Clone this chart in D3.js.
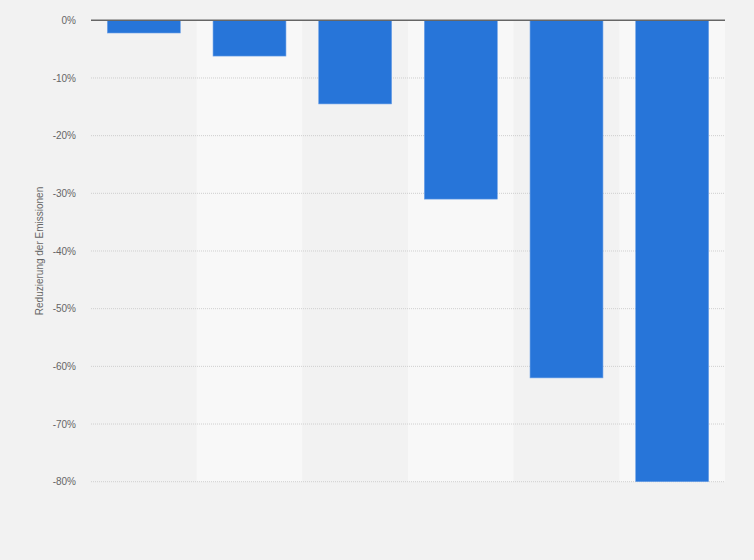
<!DOCTYPE html>
<html>
<head>
<meta charset="utf-8">
<script src="https://cdn.jsdelivr.net/npm/d3@7"></script>
<style>
html,body{margin:0;padding:0;background:#f2f2f2;}
svg{display:block;}
</style>
</head>
<body>
<svg id="chart" width="754" height="560"></svg>
<script>
const categories = ["A", "B", "C", "D", "E", "F"];
const values = [-2.2, -6.2, -14.5, -31, -62, -80];
const yTicks = [0, -10, -20, -30, -40, -50, -60, -70, -80];
const yTitle = "Reduzierung der Emissionen";

const FONT = "'Liberation Sans', Arial, sans-serif";
const svg = d3.select("#chart");
const W = 754, H = 560;
const m = {left: 91, right: 29, top: 20.3, bottom: 78.3};
const x = d3.scaleBand().domain(categories).range([m.left, W - m.right]).paddingInner(0.31).paddingOuter(0.155);
const xBg = d3.scaleBand().domain(categories).range([m.left, W - m.right]).padding(0);
const y = d3.scaleLinear().domain([-80, 0]).range([H - m.bottom, m.top]);

svg.append("rect").attr("width", W).attr("height", H).attr("fill", "#f2f2f2");

// alternating band backgrounds
svg.append("g").selectAll("rect").data(categories).join("rect")
  .attr("x", d => xBg(d)).attr("width", xBg.bandwidth())
  .attr("y", y(0)).attr("height", y(-80) - y(0))
  .attr("fill", (d, i) => i % 2 === 1 ? "#f8f8f8" : "#f2f2f2");

// y axis labels
const yAxis = d3.axisLeft(y).tickValues(yTicks).tickFormat(d => d + "%").tickSize(0).tickPadding(15);
const gAxis = svg.append("g").attr("transform", `translate(${m.left},0)`).call(yAxis);
gAxis.select(".domain").remove();
gAxis.selectAll("text").attr("fill", "#666").style("font-family", FONT).style("font-size", "10px");

// gridlines
svg.append("g").selectAll("line").data(yTicks.filter(t => t !== 0)).join("line")
  .attr("x1", m.left).attr("x2", W - m.right)
  .attr("y1", d => y(d)).attr("y2", d => y(d))
  .attr("stroke", "#cfcfcf").attr("stroke-width", 1).attr("stroke-dasharray", "1,1");

// bars
svg.append("g").selectAll("rect").data(values).join("rect")
  .attr("x", (d, i) => x(categories[i]))
  .attr("width", x.bandwidth())
  .attr("y", y(0))
  .attr("height", d => y(d) - y(0))
  .attr("fill", "#2775d9")
  .attr("stroke", "#6a9fe6").attr("stroke-width", 0.6);

// zero line
svg.append("line").attr("x1", m.left).attr("x2", W - m.right)
  .attr("y1", y(0)).attr("y2", y(0)).attr("stroke", "#666").attr("stroke-width", 1.4);

// y title
svg.append("text")
  .attr("transform", `translate(43,${(y(0) + y(-80)) / 2}) rotate(-90)`)
  .attr("text-anchor", "middle")
  .attr("fill", "#666")
  .style("font-family", FONT)
  .style("font-size", "10px")
  .text(yTitle);
</script>
</body>
</html>
